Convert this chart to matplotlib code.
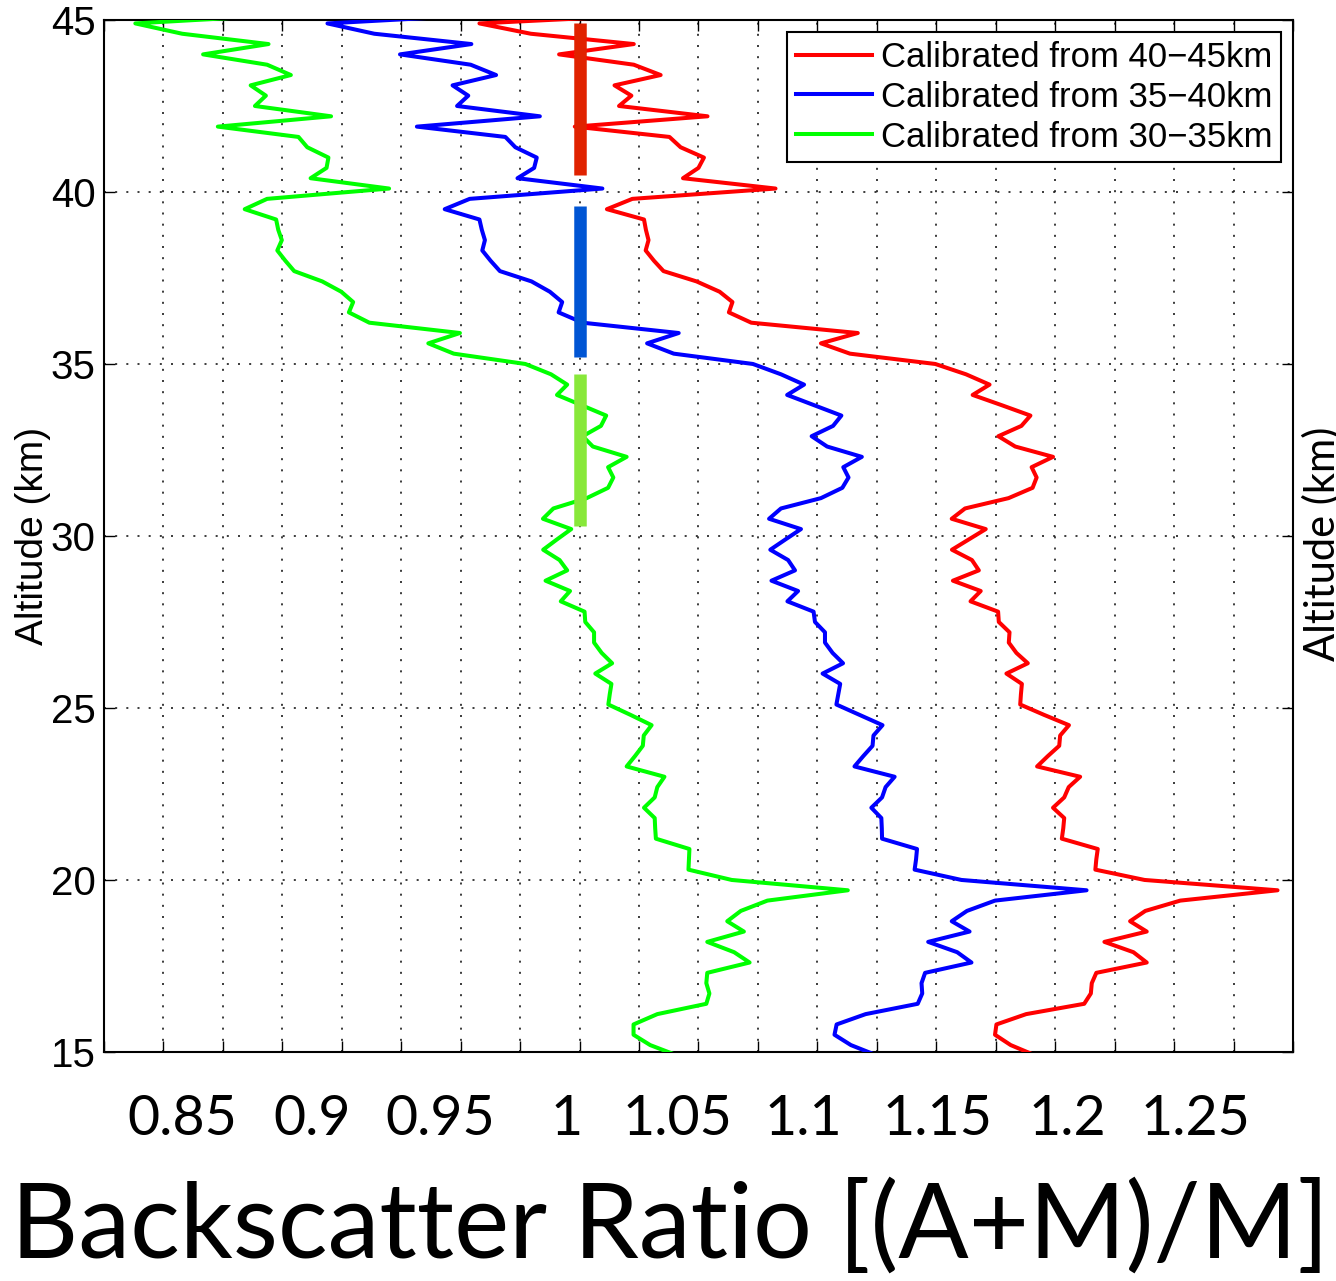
import matplotlib

matplotlib.use("Agg")
import matplotlib.pyplot as plt  # noqa: E402
from matplotlib.ticker import MultipleLocator  # noqa: E402

plt.rcParams["font.family"] = ["Liberation Sans", "DejaVu Sans"]

# range bins (km), bottom to top
ALT_KM = [
    14.9, 15.2, 15.5, 15.8, 16.1, 16.4, 16.7, 17.0, 17.3, 17.6,
    17.9, 18.2, 18.5, 18.8, 19.1, 19.4, 19.7, 20.0, 20.3, 20.6,
    20.9, 21.2, 21.5, 21.8, 22.1, 22.4, 22.7, 23.0, 23.3, 23.6,
    23.9, 24.2, 24.5, 24.8, 25.1, 25.4, 25.7, 26.0, 26.3, 26.6,
    26.9, 27.2, 27.5, 27.8, 28.1, 28.4, 28.7, 29.0, 29.3, 29.6,
    29.9, 30.2, 30.5, 30.8, 31.1, 31.4, 31.7, 32.0, 32.3, 32.6,
    32.9, 33.2, 33.5, 33.8, 34.1, 34.4, 34.7, 35.0, 35.3, 35.6,
    35.9, 36.2, 36.5, 36.8, 37.1, 37.4, 37.7, 38.0, 38.3, 38.6,
    38.9, 39.2, 39.5, 39.8, 40.1, 40.4, 40.7, 41.0, 41.3, 41.6,
    41.9, 42.2, 42.5, 42.8, 43.1, 43.4, 43.7, 44.0, 44.3, 44.6,
    44.9, 45.2,
]

# backscatter ratio profiles, one per calibration window
BSR_40_45 = [
    1.1916, 1.1813, 1.1747, 1.1753, 1.1878, 1.2122, 1.2150, 1.2154, 1.2173, 1.2385,
    1.2329, 1.2207, 1.2385, 1.2315, 1.2379, 1.2526, 1.2935, 1.2376, 1.2169, 1.2173,
    1.2179, 1.2028, 1.2034, 1.2038, 1.1991, 1.2038, 1.2057, 1.2105, 1.1924, 1.1969,
    1.2017, 1.2021, 1.2058, 1.1953, 1.1853, 1.1856, 1.1860, 1.1795, 1.1885, 1.1837,
    1.1805, 1.1808, 1.1763, 1.1760, 1.1644, 1.1687, 1.1570, 1.1679, 1.1650, 1.1566,
    1.1637, 1.1708, 1.1565, 1.1621, 1.1804, 1.1905, 1.1922, 1.1901, 1.1991, 1.1832,
    1.1761, 1.1858, 1.1896, 1.1776, 1.1653, 1.1724, 1.1625, 1.1496, 1.1137, 1.1015,
    1.1170, 1.0722, 1.0628, 1.0643, 1.0589, 1.0492, 1.0353, 1.0313, 1.0278, 1.0290,
    1.0279, 1.0271, 1.0115, 1.0222, 1.0824, 1.0435, 1.0500, 1.0523, 1.0425, 1.0378,
    0.9980, 1.0538, 1.0166, 1.0218, 1.0147, 1.0341, 1.0228, 0.9914, 1.0228, 0.9795,
    0.9579, 1.0450,
]
BSR_35_40 = [
    1.1250, 1.1141, 1.1072, 1.1081, 1.1203, 1.1422, 1.1441, 1.1438, 1.1453, 1.1648,
    1.1588, 1.1466, 1.1640, 1.1565, 1.1629, 1.1747, 1.2132, 1.1606, 1.1409, 1.1415,
    1.1419, 1.1272, 1.1271, 1.1269, 1.1227, 1.1272, 1.1287, 1.1325, 1.1156, 1.1193,
    1.1232, 1.1236, 1.1274, 1.1177, 1.1080, 1.1088, 1.1096, 1.1022, 1.1108, 1.1064,
    1.1032, 1.1032, 1.0990, 1.0984, 1.0874, 1.0919, 1.0807, 1.0906, 1.0877, 1.0802,
    1.0866, 1.0931, 1.0797, 1.0847, 1.1015, 1.1105, 1.1131, 1.1109, 1.1187, 1.1041,
    1.0976, 1.1066, 1.1101, 1.0987, 1.0873, 1.0944, 1.0847, 1.0729, 1.0396, 1.0284,
    1.0417, 1.0013, 0.9912, 0.9927, 0.9875, 0.9798, 0.9665, 0.9626, 0.9591, 0.9602,
    0.9589, 0.9579, 0.9433, 0.9538, 1.0096, 0.9739, 0.9809, 0.9820, 0.9730, 0.9688,
    0.9316, 0.9833, 0.9485, 0.9532, 0.9466, 0.9649, 0.9542, 0.9245, 0.9545, 0.9137,
    0.8940, 0.9730,
]
BSR_30_35 = [
    1.0410, 1.0297, 1.0227, 1.0227, 1.0327, 1.0533, 1.0546, 1.0533, 1.0537, 1.0715,
    1.0650, 1.0537, 1.0691, 1.0621, 1.0678, 1.0790, 1.1128, 1.0640, 1.0458, 1.0460,
    1.0462, 1.0321, 1.0318, 1.0316, 1.0271, 1.0316, 1.0327, 1.0357, 1.0198, 1.0233,
    1.0266, 1.0270, 1.0303, 1.0214, 1.0121, 1.0127, 1.0134, 1.0066, 1.0137, 1.0093,
    1.0061, 1.0061, 1.0024, 1.0021, 0.9921, 0.9960, 0.9857, 0.9948, 0.9916, 0.9847,
    0.9905, 0.9965, 0.9846, 0.9890, 1.0030, 1.0120, 1.0142, 1.0120, 1.0198, 1.0056,
    1.0013, 1.0090, 1.0112, 1.0009, 0.9905, 0.9948, 0.9880, 0.9772, 0.9471, 0.9364,
    0.9497, 0.9116, 0.9030, 0.9048, 0.8998, 0.8918, 0.8800, 0.8763, 0.8729, 0.8748,
    0.8733, 0.8724, 0.8592, 0.8686, 0.9199, 0.8869, 0.8936, 0.8944, 0.8855, 0.8818,
    0.8479, 0.8955, 0.8635, 0.8681, 0.8617, 0.8786, 0.8686, 0.8417, 0.8692, 0.8329,
    0.8132, 0.8890,
]

PROFILES = [BSR_40_45, BSR_35_40, BSR_30_35]
LABELS = [
    "Calibrated from 40\u221245km",
    "Calibrated from 35\u221240km",
    "Calibrated from 30\u221235km",
]
CURVE_COLORS = ["#ff0000", "#0000ff", "#00ff00"]

# altitude windows used for normalisation (drawn at ratio = 1)
CAL_RATIO = 1.0
CAL_WINDOWS = [(40.5, 44.9), (35.2, 39.6), (30.3, 34.7)]
WINDOW_COLORS = ["#e02200", "#0055d4", "#88e83a"]

# large hand-set axis numbers under the plot
XTICK_TEXT = ["0.85", "0.9", "0.95", "1", "1.05", "1.1", "1.15", "1.2", "1.25"]
XTICK_TEXT_POS = [0.066, 0.175, 0.283, 0.389, 0.482, 0.588, 0.701, 0.810, 0.918]

fig = plt.figure(figsize=(13.36, 12.81), dpi=100)
ax = fig.add_axes([0.0778, 0.1788, 0.8900, 0.8056])

for prof, lab, col in zip(PROFILES, LABELS, CURVE_COLORS):
    ax.plot(prof, ALT_KM, color=col, lw=2.9, label=lab, zorder=3)

for (lo, hi), col in zip(CAL_WINDOWS, WINDOW_COLORS):
    ax.plot([CAL_RATIO, CAL_RATIO], [lo, hi], color=col, lw=9,
            solid_capstyle="butt", zorder=4)

ax.set_xlim(0.8, 1.3)
ax.set_ylim(15, 45)
ax.xaxis.set_major_locator(MultipleLocator(0.025))
ax.set_yticks([15, 20, 25, 30, 35, 40, 45])
ax.grid(True, linestyle=(0, (1.2, 5.5)), color="0.1", lw=1.2)
ax.tick_params(direction="in", length=8, width=1, top=True, right=True,
               labelbottom=False, labelsize=29, pad=6)
for sp in ax.spines.values():
    sp.set_linewidth(1.5)
ax.set_ylabel("Altitude (km)", fontsize=28, labelpad=0)

for txt, xpos in zip(XTICK_TEXT, XTICK_TEXT_POS):
    ax.text(xpos, -0.0804, txt, transform=ax.transAxes, ha="center",
            va="baseline", fontsize=40, family="Lato")

fig.text(0.5015, 0.018, "Backscatter Ratio [(A+M)/M]", ha="center",
         va="baseline", fontsize=75, family="Lato")

# neighbouring panel's axis title, cut by the figure edge
fig.text(1302 / 1336, 1 - 544 / 1281, "Altitude (km)", rotation=90, ha="left",
         va="center", fontsize=30, family="Lato")

leg = ax.legend(loc="upper right", bbox_to_anchor=(1281 / 1336, 1 - 32 / 1281),
                bbox_transform=fig.transFigure, borderaxespad=0, fontsize=25,
                handlelength=2.2, handletextpad=0.25, labelspacing=0.2,
                borderpad=0.25, fancybox=False, edgecolor="black",
                framealpha=1)
leg.get_frame().set_linewidth(1.5)

fig.savefig("out.png", dpi=100)
plt.close(fig)
